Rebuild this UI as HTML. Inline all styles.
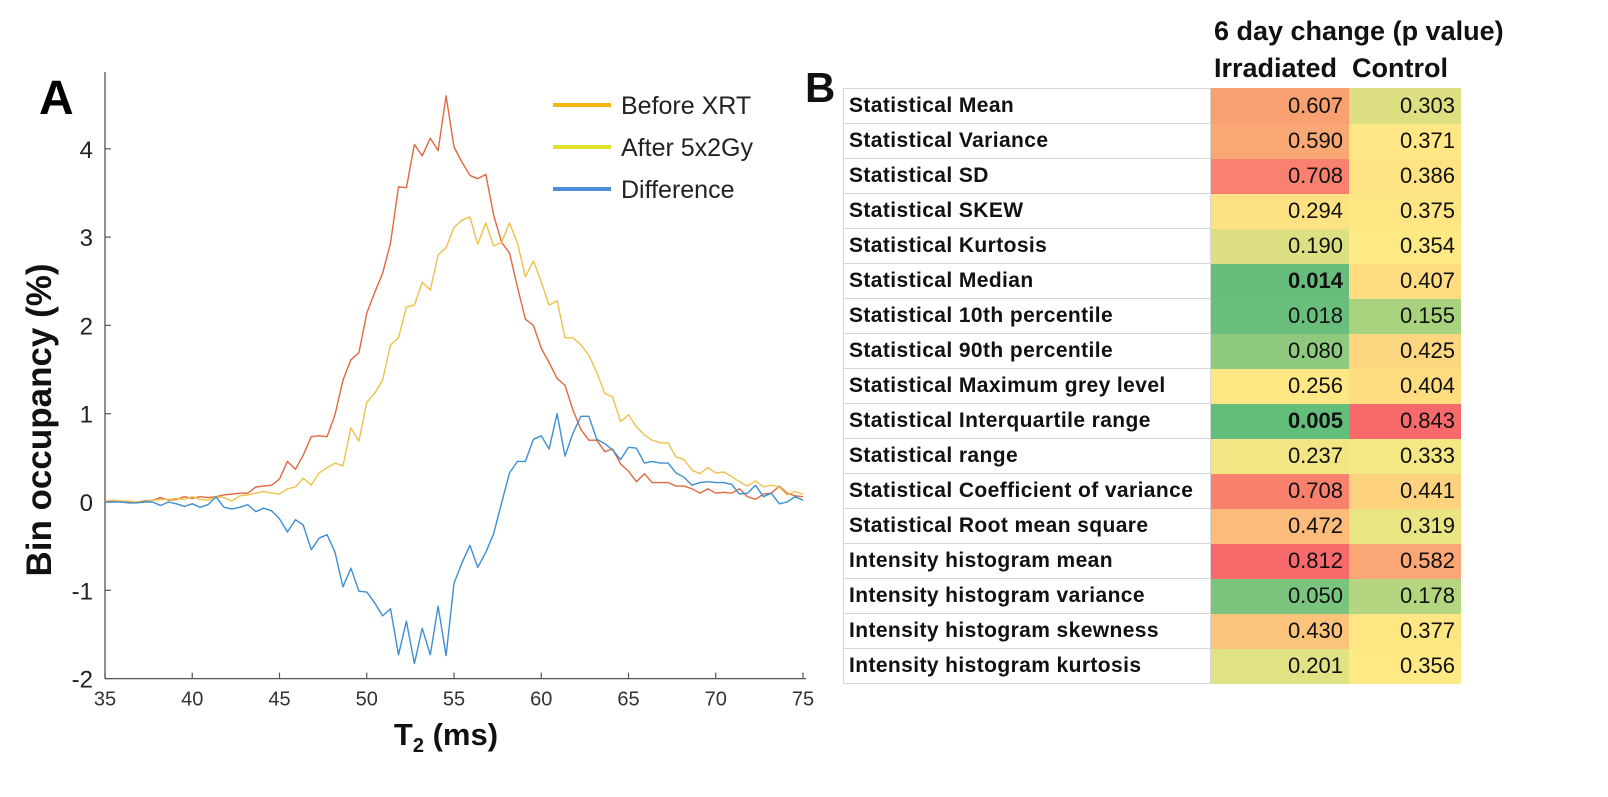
<!DOCTYPE html>
<html><head><meta charset="utf-8">
<style>
body{margin:0;background:#fff;width:1608px;height:797px;overflow:hidden;position:relative;font-family:"Liberation Sans",sans-serif;}
#chart{position:absolute;left:0;top:0;}
.hdr{position:absolute;font-weight:bold;font-size:27px;color:#111;white-space:nowrap;}
table{position:absolute;left:843px;top:88px;border-collapse:collapse;}
td{height:34px;padding:0;border:1px solid #d6d6d6;font-size:22px;color:#111;white-space:nowrap;}
td.lab{width:361px;font-weight:bold;padding-left:5px;background:#fff;font-size:21px;letter-spacing:0.4px;}
td.v{width:132px;text-align:right;padding-right:5px;}
td.c{width:106px;text-align:right;padding-right:5px;}
</style></head>
<body>
<svg id="chart" width="840" height="797"></svg>
<div class="hdr" style="left:1214px;top:16px;font-size:27px">6 day change (p value)</div>
<div class="hdr" style="left:1214px;top:53px">Irradiated</div>
<div class="hdr" style="left:1352px;top:53px">Control</div>
<div class="hdr" style="left:805px;top:64px;font-size:42px">B</div>
<table id="tbl"><tbody id="tb"></tbody></table>
<script>
const tVals=[35.00,35.45,35.91,36.36,36.82,37.27,37.73,38.18,38.64,39.09,39.55,40.00,40.45,40.91,41.36,41.82,42.27,42.73,43.18,43.64,44.09,44.55,45.00,45.45,45.91,46.36,46.82,47.27,47.73,48.18,48.64,49.09,49.55,50.00,50.45,50.91,51.36,51.82,52.27,52.73,53.18,53.64,54.09,54.55,55.00,55.45,55.91,56.36,56.82,57.27,57.73,58.18,58.64,59.09,59.55,60.00,60.45,60.91,61.36,61.82,62.27,62.73,63.18,63.64,64.09,64.55,65.00,65.45,65.91,66.36,66.82,67.27,67.73,68.18,68.64,69.09,69.55,70.00,70.45,70.91,71.36,71.82,72.27,72.73,73.18,73.64,74.09,74.55,75.00];
const beforeXRT=[0,0.01,0.01,0,0,0.01,0.02,0.05,0.02,0.03,0.06,0.04,0.06,0.05,0.06,0.08,0.09,0.10,0.10,0.17,0.18,0.19,0.26,0.46,0.37,0.53,0.74,0.75,0.74,0.99,1.38,1.61,1.69,2.14,2.37,2.59,2.93,3.57,3.56,4.05,3.92,4.12,3.98,4.60,4.02,3.85,3.70,3.66,3.71,3.25,2.94,2.82,2.43,2.07,2.00,1.74,1.58,1.40,1.32,1.04,0.82,0.70,0.70,0.57,0.60,0.43,0.35,0.23,0.32,0.22,0.22,0.22,0.18,0.18,0.15,0.10,0.15,0.10,0.11,0.10,0.15,0.06,0.03,0.09,0.10,0.18,0.10,0.07,0.06];
const after5x2=[0.01,0.02,0.01,0.01,0,0,0.02,0.03,0.03,0.04,0.03,0.06,0.03,0.02,0.06,0.05,0.01,0.07,0.08,0.10,0.12,0.10,0.09,0.15,0.17,0.27,0.19,0.33,0.39,0.44,0.41,0.84,0.69,1.13,1.23,1.38,1.78,1.86,2.21,2.23,2.49,2.40,2.80,2.88,3.11,3.19,3.23,2.92,3.16,2.90,2.94,3.16,2.93,2.55,2.73,2.49,2.23,2.28,1.86,1.86,1.78,1.66,1.47,1.23,1.19,0.91,0.99,0.85,0.76,0.70,0.67,0.67,0.51,0.48,0.36,0.32,0.39,0.33,0.34,0.29,0.23,0.18,0.24,0.17,0.19,0.17,0.08,0.12,0.09];
const difference=[0,0,0,-0.01,-0.01,0,0,-0.04,0,-0.02,-0.05,-0.02,-0.06,-0.03,0.06,-0.06,-0.08,-0.06,-0.03,-0.11,-0.07,-0.10,-0.19,-0.34,-0.20,-0.26,-0.54,-0.41,-0.37,-0.57,-0.96,-0.75,-1.01,-1.02,-1.14,-1.29,-1.21,-1.73,-1.35,-1.83,-1.43,-1.73,-1.18,-1.74,-0.92,-0.69,-0.49,-0.74,-0.57,-0.36,-0.01,0.33,0.46,0.46,0.71,0.75,0.60,1.00,0.52,0.78,0.97,0.97,0.71,0.66,0.59,0.48,0.62,0.61,0.44,0.46,0.44,0.44,0.33,0.28,0.19,0.22,0.23,0.22,0.22,0.20,0.09,0.10,0.19,0.06,0.10,-0.02,0.00,0.06,0.02];
const xTicks=[35,40,45,50,55,60,65,70,75];
const yTicks=[-2,-1,0,1,2,3,4];
const legendLabels=["Before XRT","After 5x2Gy","Difference"];

const X0=105,PXT=17.45,Y0=502,PYV=88.3;
function sx(t){return X0+(t-35)*PXT;}
function sy(v){return Y0-v*PYV;}
const NS="http://www.w3.org/2000/svg";
const svg=document.getElementById('chart');
function mk(tag,attrs,parent){const e=document.createElementNS(NS,tag);for(const k in attrs)e.setAttribute(k,attrs[k]);(parent||svg).appendChild(e);return e;}

let e;
e=mk('line',{x1:105,y1:72,x2:105,y2:sy(-2),stroke:'#555','stroke-width':1.3});


e=mk('line',{x1:105,y1:sy(-2),x2:806,y2:sy(-2),stroke:'#555','stroke-width':1.3});


xTicks.forEach(t=>{
  const tk=mk('line',{x1:sx(t),x2:sx(t),y1:sy(-2),y2:sy(-2)-6,stroke:'#555','stroke-width':1.2});
  
  
  const lb=mk('text',{x:sx(t),y:sy(-2)+27,'text-anchor':'middle','font-size':20,fill:'#333','font-family':'Liberation Sans, sans-serif'});
  lb.textContent=t;
  
  
});
yTicks.forEach(v=>{
  const tk=mk('line',{x1:105,x2:111,y1:sy(v),y2:sy(v),stroke:'#555','stroke-width':1.2});
  
  
  const lb=mk('text',{x:93,y:sy(v)+9,'text-anchor':'end','font-size':24,fill:'#222','font-family':'Liberation Sans, sans-serif'});
  lb.textContent=v;
  
  
});
const series=[[beforeXRT,'#e2683f','before-xrt-line'],[after5x2,'#eec24a','after-5x2gy-line'],[difference,'#3d8fd2','difference-line']];
series.forEach(s=>{
  const d=s[0].map((v,i)=>(i?'L':'M')+sx(tVals[i]).toFixed(1)+','+sy(v).toFixed(1)).join(' ');
  const p=mk('path',{d:d,fill:'none',stroke:s[1],'stroke-width':1.4,'stroke-linejoin':'round'});
  
  
});
const legCols=['#f5b614','#e3e02c','#4d8fd6'];
legendLabels.forEach((l,i)=>{
  const y=105+i*42;
  const ln=mk('line',{x1:553,x2:611,y1:y,y2:y,stroke:legCols[i],'stroke-width':4});
  
  
  const tx=mk('text',{x:621,y:y+9,'font-size':25,fill:'#222','font-family':'Liberation Sans, sans-serif'});
  tx.textContent=l;
  
  
});
e=mk('text',{x:39,y:114,'font-size':48,'font-weight':'bold',fill:'#000','font-family':'Liberation Sans, sans-serif'});
e.textContent='A';


e=mk('text',{x:0,y:0,'font-size':35,'font-weight':'bold',fill:'#111','text-anchor':'middle',transform:'translate(51,420) rotate(-90)','font-family':'Liberation Sans, sans-serif'});
e.textContent='Bin occupancy (%)';


e=mk('text',{x:446,y:745,'font-size':31,'font-weight':'bold',fill:'#111','text-anchor':'middle','font-family':'Liberation Sans, sans-serif'});
e.innerHTML='T<tspan font-size="20" dy="7">2</tspan><tspan dy="-7"> (ms)</tspan>';



const rowLabels=["Statistical Mean","Statistical Variance","Statistical SD","Statistical SKEW","Statistical Kurtosis","Statistical Median","Statistical 10th percentile","Statistical 90th percentile","Statistical Maximum grey level","Statistical Interquartile range","Statistical range","Statistical Coefficient of variance","Statistical Root mean square","Intensity histogram mean","Intensity histogram variance","Intensity histogram skewness","Intensity histogram kurtosis"];
const irr=["0.607","0.590","0.708","0.294","0.190","0.014","0.018","0.080","0.256","0.005","0.237","0.708","0.472","0.812","0.050","0.430","0.201"];
const ctl=["0.303","0.371","0.386","0.375","0.354","0.407","0.155","0.425","0.404","0.843","0.333","0.441","0.319","0.582","0.178","0.377","0.356"];
const boldIrr=[5,9];
const irrCol=["#f9a070","#f9a873","#f8826f","#fde283","#dde082","#67bd7b","#6abe7c","#8ec97e","#fee884","#63be7b","#f1e584","#f8816e","#fbbb7a","#f8696b","#7bc47d","#fcc47b","#e0e283"];
const ctlCol=["#dde082","#fee784","#fee383","#fee683","#feea84","#fedc81","#a9d27f","#fdd680","#fedd81","#f8696b","#f4e884","#fdd27f","#e9e583","#faa775","#b5d680","#fee683","#feea84"];
const tb=document.getElementById('tb');
rowLabels.forEach((l,i)=>{
  const tr=document.createElement('tr');
  
  
  const a=document.createElement('td');a.className='lab';a.textContent=l;
  
  
  const b=document.createElement('td');b.className='v';b.textContent=irr[i];b.style.background=irrCol[i];b.style.borderColor=irrCol[i];
  if(boldIrr.indexOf(i)>=0)b.style.fontWeight='bold';
  
  
  const c=document.createElement('td');c.className='c';c.textContent=ctl[i];c.style.background=ctlCol[i];c.style.borderColor=ctlCol[i];
  
  
  tr.appendChild(a);tr.appendChild(b);tr.appendChild(c);tb.appendChild(tr);
});
</script>
</body></html>
